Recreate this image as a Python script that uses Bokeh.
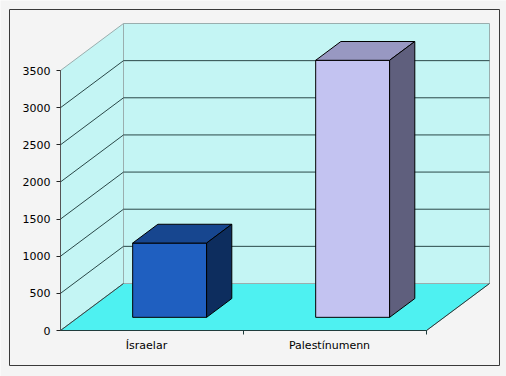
from bokeh.plotting import figure
from bokeh.models import Range1d, LinearAxis, FixedTicker
from bokeh.embed import file_html
from bokeh.resources import INLINE

# ---- data ----
categories = ["Ísraelar", "Palestínumenn"]
values = [1000, 3460]
y_ticks = [0, 500, 1000, 1500, 2000, 2500, 3000, 3500]

# ---- styles ----
front_colors = ["#1f5fc0", "#c3c3f1"]
top_colors = ["#17468f", "#9898c2"]
side_colors = ["#0d2d5e", "#5f5f7d"]
WALL = "#c4f5f4"
FLOOR = "#4ef1f1"
BG = "#f4f4f4"
GRID = "#2a4848"
EDGE = "#9aaeae"

W, H = 506, 376
X0_PX, Y0_PX = 60, 330          # pixel position of the front origin
PX_PER_CAT = 183
PX_PER_VAL = 260 / 3500
DEPTH_DX_PX, DEPTH_DY_PX = 63, 47
YMAX = y_ticks[-1]
N = len(categories)
BW = 0.404
D0, D1 = 0.28, 0.68
LABEL_SHIFT = 0.03

x_start = -X0_PX / PX_PER_CAT
x_end = x_start + W / PX_PER_CAT
y_start = -(H - Y0_PX) / PX_PER_VAL
y_end = y_start + H / PX_PER_VAL

DX = DEPTH_DX_PX / PX_PER_CAT
DY = DEPTH_DY_PX / PX_PER_VAL


def P(x, v, d):
    return (x + d * DX, v + d * DY)


def poly(pts):
    return [p[0] for p in pts], [p[1] for p in pts]


def px2x(px):
    return x_start + px / PX_PER_CAT


def py2y(py):
    return y_end - py / PX_PER_VAL


p = figure(width=W, height=H, output_backend="svg", toolbar_location=None,
           x_axis_type=None, y_axis_type=None,
           x_range=Range1d(x_start, x_end), y_range=Range1d(y_start, y_end),
           min_border=0, min_border_left=0, min_border_right=0,
           min_border_top=0, min_border_bottom=0)
p.background_fill_color = BG
p.border_fill_color = BG
p.outline_line_color = None

# outer chart border
p.quad(left=[px2x(9)], right=[px2x(499)], top=[py2y(9)], bottom=[py2y(365)],
       fill_color=None, line_color="#3a3a3a", line_width=1)

# walls and floor
side = poly([P(0, 0, 0), P(0, YMAX, 0), P(0, YMAX, 1), P(0, 0, 1)])
back = poly([P(0, 0, 1), P(0, YMAX, 1), P(N, YMAX, 1), P(N, 0, 1)])
floor = poly([P(0, 0, 0), P(N, 0, 0), P(N, 0, 1), P(0, 0, 1)])
p.patches(xs=[side[0], back[0], floor[0]], ys=[side[1], back[1], floor[1]],
          fill_color=[WALL, WALL, FLOOR], line_color=EDGE, line_width=1)

# gridlines on walls
gx, gy = [], []
for v in y_ticks[:-1]:
    a, b = P(0, v, 0), P(0, v, 1)
    gx.append([a[0], b[0]]); gy.append([a[1], b[1]])
    if v > 0:
        c = P(N, v, 1)
        gx.append([b[0], c[0]]); gy.append([b[1], c[1]])
p.multi_line(xs=gx, ys=gy, line_color=GRID, line_width=1)

# floor front/right edge
fe = poly([P(0, 0, 0), P(N, 0, 0), P(N, 0, 1)])
p.line(x=fe[0], y=fe[1], line_color="#203c3c", line_width=1)

# bars
bxs, bys, bfill = [], [], []
for i, v in enumerate(values):
    x0 = i + 0.5 - BW / 2
    x1 = i + 0.5 + BW / 2
    front = poly([P(x0, 0, D0), P(x0, v, D0), P(x1, v, D0), P(x1, 0, D0)])
    top = poly([P(x0, v, D0), P(x0, v, D1), P(x1, v, D1), P(x1, v, D0)])
    sd = poly([P(x1, 0, D0), P(x1, v, D0), P(x1, v, D1), P(x1, 0, D1)])
    for f, col in ((front, front_colors[i]), (top, top_colors[i]), (sd, side_colors[i])):
        bxs.append(f[0]); bys.append(f[1]); bfill.append(col)
p.patches(xs=bxs, ys=bys, fill_color=bfill, line_color="#000000", line_width=1)

# axes
yaxis = LinearAxis(fixed_location=0, ticker=FixedTicker(ticks=y_ticks),
                   bounds=(0, YMAX))
yaxis.axis_line_color = "#555555"
yaxis.major_tick_line_color = "#222222"
yaxis.major_tick_out = 4
yaxis.major_tick_in = 0
yaxis.minor_tick_line_color = None
yaxis.major_label_standoff = 6
yaxis.major_label_text_font = "DejaVu Sans"
yaxis.major_label_text_font_size = "11px"
yaxis.major_label_text_color = "#000000"
p.add_layout(yaxis, "left")

centers = [i + 0.5 - LABEL_SHIFT for i in range(N)]
xaxis = LinearAxis(fixed_location=0,
                   ticker=FixedTicker(ticks=centers, minor_ticks=list(range(1, N + 1))),
                   bounds=(0, N),
                   major_label_overrides={c: lab for c, lab in zip(centers, categories)})
xaxis.axis_line_color = "#203c3c"
xaxis.major_tick_line_color = None
xaxis.major_tick_out = 0
xaxis.major_tick_in = 0
xaxis.minor_tick_line_color = "#203c3c"
xaxis.minor_tick_out = 4
xaxis.minor_tick_in = 0
xaxis.major_label_standoff = 4
xaxis.major_label_text_font = "DejaVu Sans"
xaxis.major_label_text_font_size = "11px"
xaxis.major_label_text_color = "#000000"
p.add_layout(xaxis, "below")

open("out.html", "w").write(file_html(p, INLINE))
